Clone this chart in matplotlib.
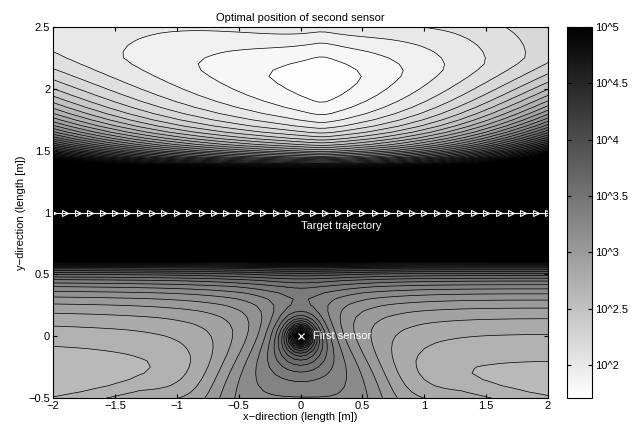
import numpy as np
import matplotlib.pyplot as plt
from matplotlib import cm
from matplotlib.colors import Normalize

plt.rcParams['font.family'] = ['Liberation Sans', 'DejaVu Sans']
plt.rcParams['font.size'] = 8

# target trajectory (way-points along y = 1) and the first sensor
traj_x = np.round(np.arange(-2.0, 2.0001, 0.1), 2)
traj_y = np.full(traj_x.shape, 1.0)
sensor1 = (0.0, 0.0)

# evaluation mesh [m]
mesh_x = np.linspace(-2.0, 2.0, 81)
mesh_y = np.linspace(-0.5, 2.5, 61)

# cost surface, log10 units
top_valley = [0.17, 2.05, 1.64]        # x, y, floor of the upper basin
top_slope = [0.23, 0.85, 0.33, 1.0]    # gain / power, left and right of the basin
top_curv = [1.3, 1.5, 0.67, 0.14]      # rise above the valley, power, fall-off, valley bend
top_drop = [0.276, 0.55, 1.5]          # extra rise below the valley, left / right, power
band_top = [0.46, 0.30, 3.23]          # scale, half width, power
band_bot = [0.59, 0.35, 2.0]
bot_floor = [2.505, 2.8, 0.012, 1.3]   # floor, curvature, tilt, curvature reach
bot_valley = [-0.03, -0.14, -0.01]     # valley y at x = 0, slope with |x|, tilt
bump = [0.58, 0.72, 5.0, -0.5, 1.4]    # height, width, power, centre y, vertical stretch
ring = [0.28, 2.0]                     # scale, power around the first sensor

# contour levels and colour scale (log10 of the cost)
first_level = 1.81
level_step = 0.1
clim = [1.706, 5.0]
cbar_ticks = [2, 2.5, 3, 3.5, 4, 4.5, 5]
cbar_labels = ['10^2', '10^2.5', '10^3', '10^3.5', '10^4', '10^4.5', '10^5']


def band(d, p):
    gap = np.clip(d - p[1], 1e-6, None)
    return np.log10(1 + (p[0] / gap) ** p[2])


def side(dx, left, right):
    return np.where(dx < 0, left, right)


def log_cost(X, Y):
    d = np.abs(Y - traj_y[0])
    dx = X - top_valley[0]
    p = side(dx, top_slope[1], top_slope[3])
    fx = side(dx, top_slope[0], top_slope[2]) * ((dx ** 2 + 0.0025) ** (p / 2) - 0.05 ** p)
    y0 = top_valley[1] + top_curv[3] * (np.sqrt(dx ** 2 + 0.04) - 0.2)
    dy = Y - y0
    k_up = top_curv[0] / (1 + top_curv[2] * dx ** 2)
    k_dn = side(dx, top_drop[0], top_drop[1]) * dx ** 2
    rise = np.where(dy > 0, k_up * np.abs(dy) ** top_curv[1], k_dn * np.abs(dy) ** top_drop[2])
    upper = top_valley[2] + fx + rise + band(d, band_top)

    yb = bot_valley[0] + bot_valley[1] * np.abs(X) + bot_valley[2] * X
    kb = bot_floor[1] * np.minimum(1, np.abs(X) / bot_floor[3]) ** 2
    lower = bot_floor[0] + bot_floor[2] * X + kb * np.minimum(0, Y - yb) ** 2
    lower = lower + band(d, band_bot)
    rho = np.hypot(X, bump[4] * (Y - bump[3]))
    lower = lower + bump[0] / (1 + (rho / bump[1]) ** bump[2])

    r = np.clip(np.hypot(X - sensor1[0], Y - sensor1[1]), 1e-6, None)
    L = np.where(Y >= traj_y[0], upper, lower) + np.log10(1 + (ring[0] / r) ** ring[1])
    return np.minimum(L, 9.0)


X, Y = np.meshgrid(mesh_x, mesh_y)
Z = log_cost(X, Y)

levels = np.concatenate([[Z.min() - 0.01], np.arange(first_level, 9.05, level_step)])
cmap = plt.get_cmap('gray_r')
norm = Normalize(clim[0], clim[1])
fill_colors = [cmap(norm(max(v, clim[0]))) for v in levels[:-1]]

fig = plt.figure(figsize=(6.34, 4.32), dpi=100)
ax = fig.add_axes([0.0836, 0.0787, 0.7808, 0.8588])
ax.contourf(X, Y, Z, levels=levels, colors=fill_colors)
ax.contour(X, Y, Z, levels=levels[1:], colors='k', linewidths=0.5)

ax.plot(traj_x, traj_y, color='white', lw=0.8, marker='>', ms=5,
        mfc='none', mec='white', mew=0.8)
ax.plot(*sensor1, marker='x', color='white', ms=4, mew=0.9)
ax.text(0.0, 0.89, 'Target trajectory', color='white', va='center', ha='left')
ax.text(0.1, 0.0, 'First sensor', color='white', va='center', ha='left')

ax.set_xlim(-2, 2)
ax.set_ylim(-0.5, 2.5)
ax.set_xticks(np.arange(-2, 2.01, 0.5))
ax.set_yticks(np.arange(-0.5, 2.51, 0.5))
ax.set_xticklabels(['\u22122', '\u22121.5', '\u22121', '\u22120.5', '0', '0.5', '1', '1.5', '2'])
ax.set_yticklabels(['\u22120.5', '0', '0.5', '1', '1.5', '2', '2.5'])
ax.tick_params(direction='in', top=True, right=True, length=3, pad=2)
ax.set_xlabel('x\u2212direction (length [m])', labelpad=1)
ax.set_ylabel('y\u2212direction (length [m])', labelpad=2)
ax.set_title('Optimal position of second sensor', fontsize=8, pad=4)

cax = fig.add_axes([0.8943, 0.0787, 0.0394, 0.8588])
sm = cm.ScalarMappable(norm=norm, cmap=cmap)
cb = fig.colorbar(sm, cax=cax)
cb.set_ticks(cbar_ticks)
cb.set_ticklabels(cbar_labels)
cb.ax.tick_params(direction='in', length=3, left=True, right=True, pad=2)
cb.outline.set_linewidth(0.8)

fig.savefig('out.png', dpi=100)
